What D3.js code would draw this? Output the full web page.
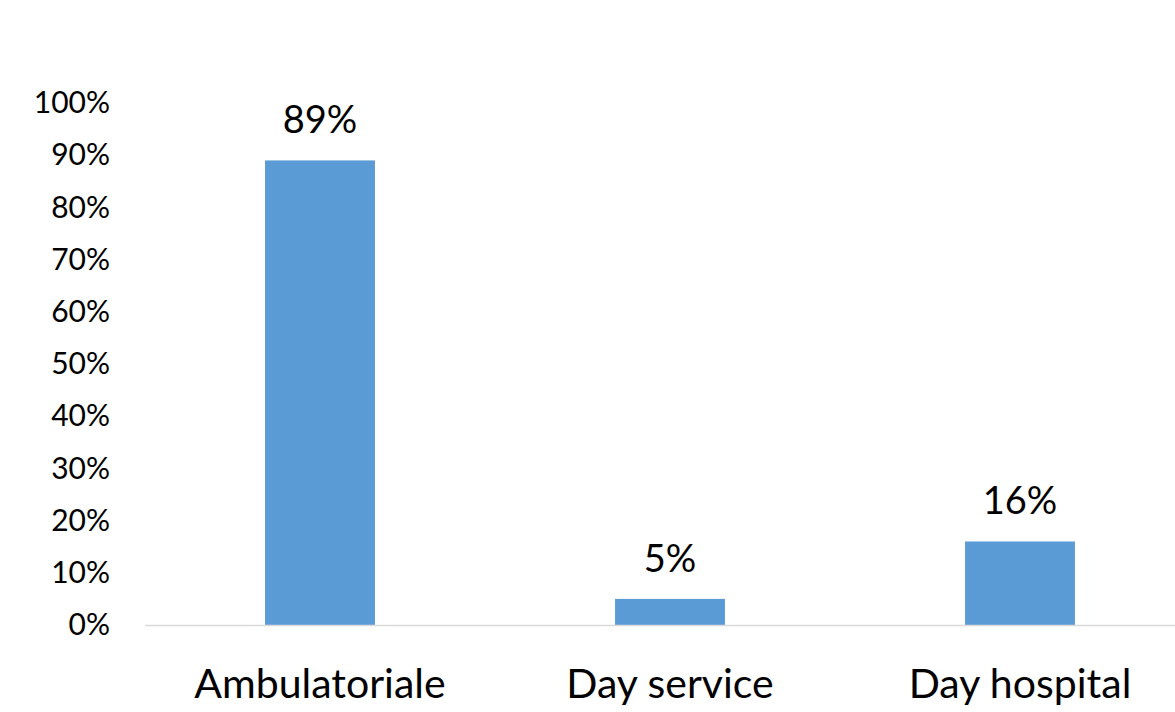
<!DOCTYPE html>
<html>
<head>
<meta charset="utf-8">
<script src="https://cdn.jsdelivr.net/npm/d3@7"></script>
<style>
  html, body { margin: 0; padding: 0; background: #fff; }
  svg { display: block; }
  text { font-family: Lato, "Open Sans", sans-serif; fill: #000; }
</style>
</head>
<body>
<svg id="chart" width="1175" height="712"></svg>
<script>
// Share of patients by care setting (percent)
const categories = ["Ambulatoriale", "Day service", "Day hospital"];
const values = [89, 5, 16];
const tickValues = [0, 10, 20, 30, 40, 50, 60, 70, 80, 90, 100];

const svg = d3.select("#chart");

const plot = { left: 145, right: 1195, top: 103, bottom: 625 };

const x = d3.scaleBand()
  .domain(categories)
  .range([plot.left, plot.right])
  .paddingInner(0.686)
  .paddingOuter(0.343);

const y = d3.scaleLinear()
  .domain([0, 100])
  .range([plot.bottom, plot.top]);

// Y axis: labels only, no axis line or tick marks
const yAxis = d3.axisLeft(y)
  .tickValues(tickValues)
  .tickFormat(d => d + "%")
  .tickSize(0)
  .tickPadding(0);

const yg = svg.append("g")
  .attr("transform", "translate(110,0)")
  .call(yAxis);
yg.select(".domain").remove();
yg.selectAll("text")
  .style("font-family", "Lato, 'Open Sans', sans-serif")
  .style("font-size", "30px")
  .attr("fill", "#000");

// Bars
svg.append("g")
  .selectAll("rect")
  .data(values)
  .join("rect")
  .attr("x", (d, i) => x(categories[i]))
  .attr("y", d => y(d))
  .attr("width", x.bandwidth())
  .attr("height", d => y(0) - y(d))
  .attr("fill", "#5B9BD5");

// Baseline
svg.append("line")
  .attr("x1", plot.left)
  .attr("x2", 1175)
  .attr("y1", y(0) + 0.5)
  .attr("y2", y(0) + 0.5)
  .attr("stroke", "#d9d9d9")
  .attr("stroke-width", 1.5);

// Value labels above bars
svg.append("g")
  .selectAll("text")
  .data(values)
  .join("text")
  .attr("x", (d, i) => x(categories[i]) + x.bandwidth() / 2)
  .attr("y", d => y(d) - 27)
  .attr("text-anchor", "middle")
  .style("font-size", "38px")
  .text(d => d + "%");

// Category labels
const xAxis = d3.axisBottom(x).tickSize(0).tickPadding(0);
const xg = svg.append("g")
  .attr("transform", `translate(0,${y(0)})`)
  .call(xAxis);
xg.select(".domain").remove();
xg.selectAll("text")
  .attr("dy", null)
  .attr("y", 73)
  .style("font-family", "Lato, 'Open Sans', sans-serif")
  .style("font-size", "41px")
  .attr("fill", "#000");
</script>
</body>
</html>
